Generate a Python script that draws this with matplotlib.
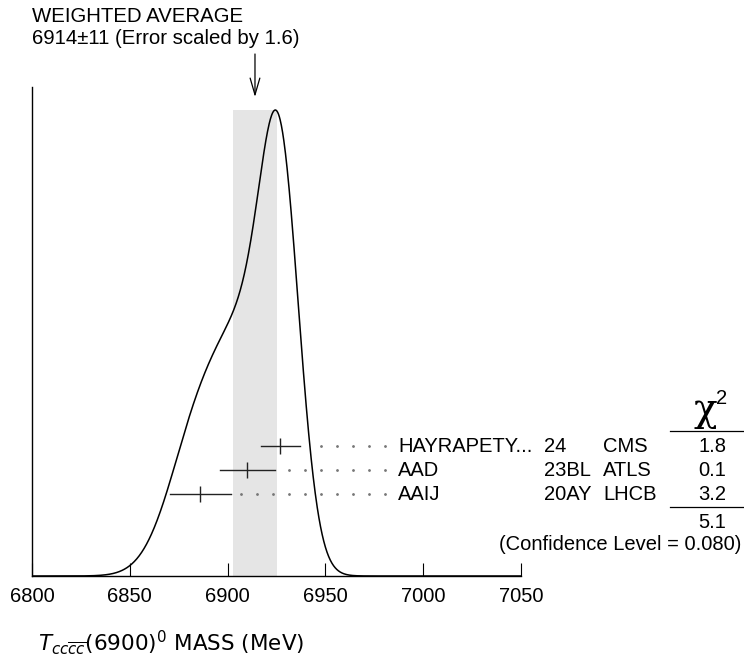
import numpy as np
import matplotlib
matplotlib.use('Agg')
import matplotlib.pyplot as plt
from matplotlib.lines import Line2D

# ----------------------------------------------------------------------
# Data
# ----------------------------------------------------------------------
authors = ['HAYRAPETY...', 'AAD', 'AAIJ']
years = ['24', '23BL', '20AY']
experiments = ['CMS', 'ATLS', 'LHCB']
masses = [6927, 6910, 6886]
errors = [10.0, 14.0, 15.6]
chi2_values = ['1.8', '0.1', '3.2']
chi2_total = '5.1'
conf_level = '0.080'
avg_value = 6914
avg_error = 11
scale_factor = 1.6
xticks = [6800, 6850, 6900, 6950, 7000, 7050]

# ----------------------------------------------------------------------
# Layout (pixels of a 744x661 canvas)
# ----------------------------------------------------------------------
W, H = 744, 661
X0_PX, X1_PX = 32, 521
Y_AXIS_PX, Y_TOP_PX, PEAK_PX = 576, 87, 110
ROW_PX = [446, 470, 494]
FONT = 'Liberation Sans'
FS = 14.5

plt.rcParams['font.family'] = FONT

def fx(px):
    return px / W

def fy(py):
    return 1 - py / H

def ay(py):
    # pixel row -> axes fraction
    return (Y_AXIS_PX - py) / (Y_AXIS_PX - Y_TOP_PX)

fig = plt.figure(figsize=(W / 100, H / 100), dpi=100)
ax = fig.add_axes([fx(X0_PX), fy(Y_AXIS_PX), (X1_PX - X0_PX) / W,
                   (Y_AXIS_PX - Y_TOP_PX) / H])

# ideogram: each measurement a gaussian of area ~ 1/sigma
x = np.linspace(6800, 7050, 1201)
curve = np.zeros_like(x)
for m, e in zip(masses, errors):
    curve += np.exp(-0.5 * ((x - m) / e) ** 2) / e ** 2
peak = curve.max()
ymax = peak / ay(PEAK_PX)

ax.fill_between([avg_value - avg_error, avg_value + avg_error], 0, peak,
                color='#e5e5e5', lw=0, zorder=0)
ax.plot(x, curve, color='black', lw=1.1, zorder=2)

ax.set_xlim(6800, 7050)
ax.set_ylim(0, ymax)
for s in ['top', 'right']:
    ax.spines[s].set_visible(False)
ax.spines['left'].set_linewidth(1.0)
ax.spines['bottom'].set_linewidth(1.0)
ax.set_yticks([])
ax.set_xticks(xticks)
ax.set_xticklabels([str(t) for t in xticks], fontsize=FS)
ax.tick_params(axis='x', direction='in', length=9.5, width=0.8, pad=8)

# measurements
trans = ax.get_xaxis_transform()
px_per_mev = (X1_PX - X0_PX) / 250.0
dot_end = 6800 + (385 - X0_PX) / px_per_mev
dot_step = 16 / px_per_mev
for i, (m, e) in enumerate(zip(masses, errors)):
    yy = ay(ROW_PX[i])
    ax.plot([m - e, m + e], [yy, yy], color='#222222', lw=1.0,
            transform=trans, clip_on=False, zorder=3)
    ax.plot([m], [yy], marker='|', ms=12, mew=1.0, color='#222222',
            transform=trans, clip_on=False, zorder=3)
    dots = np.arange(dot_end, m + e + 4, -dot_step)
    ax.plot(dots, [yy] * len(dots), ls='none', marker='o', ms=1.0,
            color='#777777', transform=trans, clip_on=False)
    fig.text(fx(398), fy(ROW_PX[i]), authors[i], fontsize=FS, va='center')
    fig.text(fx(544), fy(ROW_PX[i]), years[i], fontsize=FS, va='center')
    fig.text(fx(603), fy(ROW_PX[i]), experiments[i], fontsize=FS,
             va='center')
    fig.text(fx(712), fy(ROW_PX[i]), chi2_values[i], fontsize=FS,
             va='center', ha='center')

# chi2 column
fig.text(fx(705), fy(421), '\u03c7', fontsize=28, ha='center',
         va='baseline', family='DejaVu Serif')
fig.text(fx(716), fy(404), '2', fontsize=FS, ha='left', va='baseline')
fig.add_artist(Line2D([fx(670), fx(744)], [fy(431), fy(431)], color='black',
                      lw=0.9))
fig.add_artist(Line2D([fx(670), fx(744)], [fy(507), fy(507)], color='black',
                      lw=0.9))
fig.text(fx(712), fy(523), chi2_total, fontsize=FS, ha='center', va='center')
fig.text(fx(741), fy(545), f'(Confidence Level = {conf_level})',
         fontsize=FS, ha='right', va='center')

# weighted average header and arrow
fig.text(fx(32), fy(17), 'WEIGHTED AVERAGE', fontsize=14.7, va='center')
fig.text(fx(32), fy(38),
         f'{avg_value}\u00b1{avg_error} (Error scaled by {scale_factor})',
         fontsize=14.7, va='center')
ax.annotate('', xy=(avg_value, ay(97)), xycoords=trans,
            xytext=(avg_value, ay(54)), textcoords=trans,
            arrowprops=dict(arrowstyle='->,head_length=1.2,head_width=0.35',
                            lw=0.9, color='black', shrinkA=0, shrinkB=0),
            annotation_clip=False)

# x axis title
fig.text(fx(38), fy(651),
         r'$T_{cc\overline{cc}}$(6900)$^0$ MASS (MeV)',
         fontsize=15.5, va='baseline', family='DejaVu Sans')

fig.savefig('out.png', dpi=100)
